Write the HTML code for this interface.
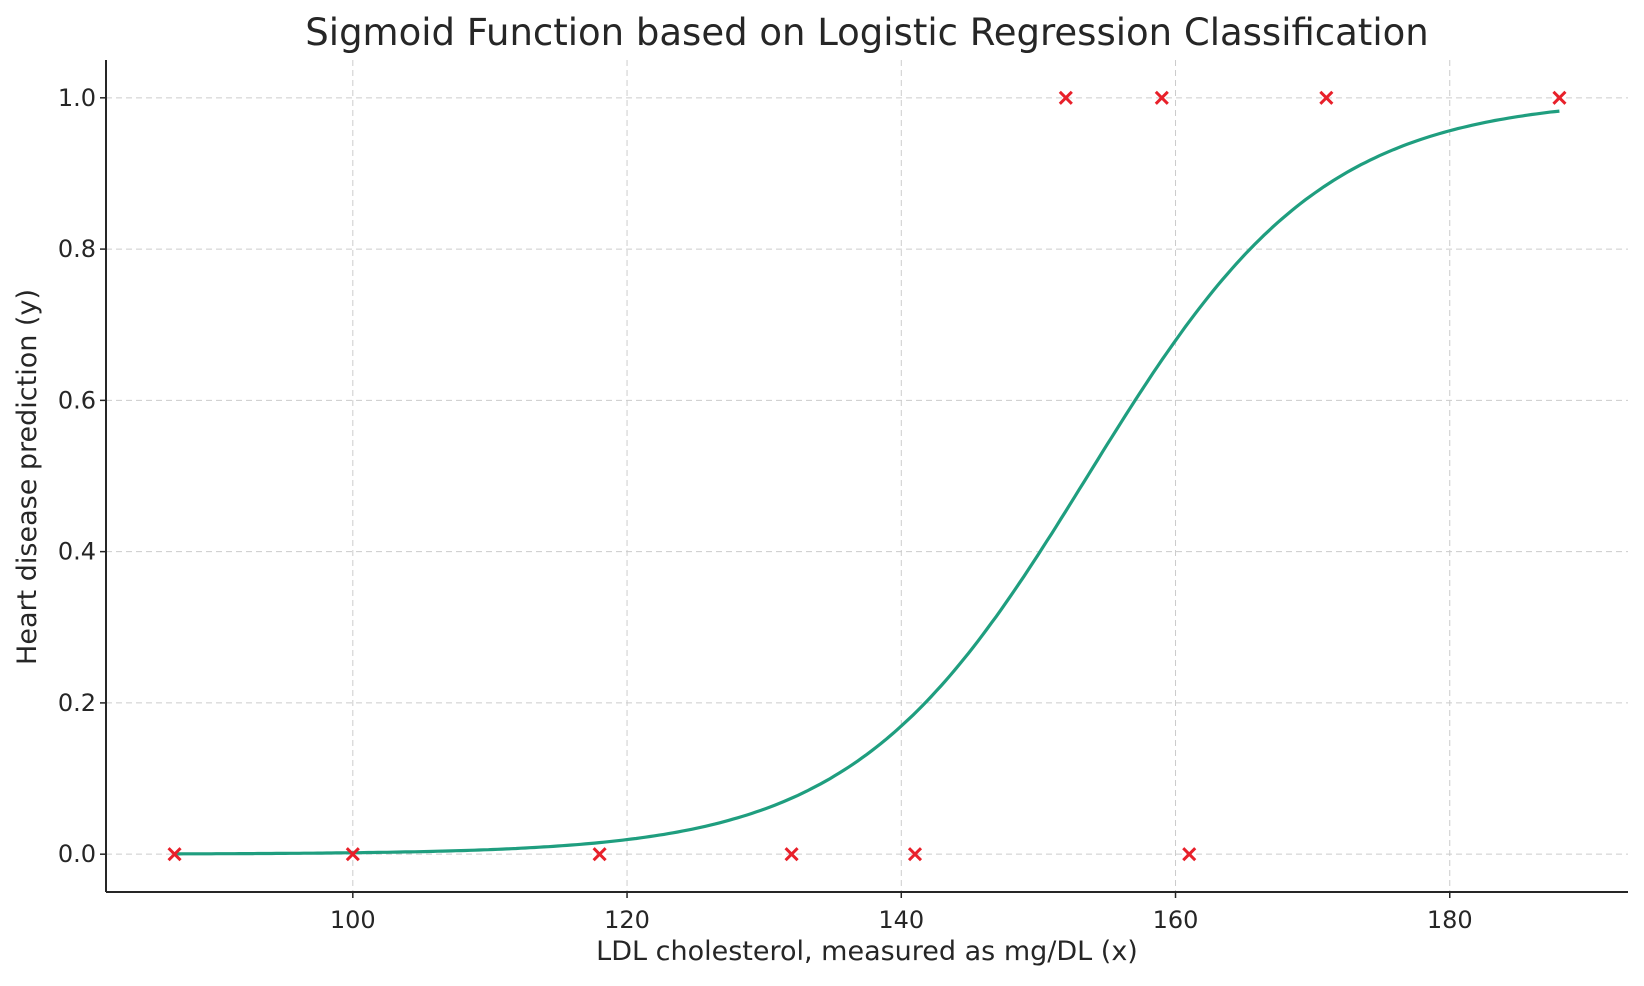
<!DOCTYPE html>
<html><head><meta charset="utf-8"><style>
body{margin:0;background:#fff;}
svg text{font-family:"DejaVu Sans","Liberation Sans",sans-serif;fill:#262626;}
</style></head><body>
<svg id="chart" width="1644" height="981" xmlns="http://www.w3.org/2000/svg">
<text x="867" y="45" font-size="37" text-anchor="middle">Sigmoid Function based on Logistic Regression Classification</text>
<g id="grid"></g>
<g id="axes"></g>
<g id="marks"></g>
<text x="867" y="960" font-size="27" text-anchor="middle">LDL cholesterol, measured as mg/DL (x)</text>
<text transform="translate(36,477) rotate(-90)" font-size="27" text-anchor="middle">Heart disease prediction (y)</text>
</svg>
<script>
const xTicks=[100,120,140,160,180];
const yTicks=[0.0,0.2,0.4,0.6,0.8,1.0];
const pointX=[87,100,118,132,141,161,152,159,171,188];
const pointY=[0,0,0,0,0,0,1,1,1,1];
const curveCoef=[-17.97,0.117];
const curveRange=[87,188];
const X0=106,X1=1628,Y0=60,Y1=892;
const xMin=82,xMax=193,yMin=-0.05,yMax=1.05;
const sx=v=>X0+(v-xMin)/(xMax-xMin)*(X1-X0);
const sy=v=>Y1-(v-yMin)/(yMax-yMin)*(Y1-Y0);
const NS="http://www.w3.org/2000/svg";
function mk(tag,attrs,parent){const e=document.createElementNS(NS,tag);for(const k in attrs)e.setAttribute(k,attrs[k]);parent.appendChild(e);return e;}
const grid=document.getElementById('grid'),axes=document.getElementById('axes'),marks=document.getElementById('marks');
xTicks.forEach(t=>{
  const l=mk('line',{x1:sx(t),x2:sx(t),y1:Y0,y2:Y1,stroke:'#ccc','stroke-width':1,'stroke-dasharray':'6,4'},grid);
  
  
  const tk=mk('line',{x1:sx(t),x2:sx(t),y1:Y1,y2:Y1+6,stroke:'#262626','stroke-width':1.5},axes);
  
  
  const tx=mk('text',{x:sx(t),y:Y1+36,'font-size':24,'text-anchor':'middle'},axes);tx.textContent=t;
  
  
});
yTicks.forEach(t=>{
  const l=mk('line',{x1:X0,x2:X1,y1:sy(t),y2:sy(t),stroke:'#ccc','stroke-width':1,'stroke-dasharray':'6,4'},grid);
  
  
  const tk=mk('line',{x1:X0-6,x2:X0,y1:sy(t),y2:sy(t),stroke:'#262626','stroke-width':1.5},axes);
  
  
  const tx=mk('text',{x:X0-10,y:sy(t)+8,'font-size':24,'text-anchor':'end'},axes);tx.textContent=t.toFixed(1);
  
  
});
const la=mk('line',{x1:X0,x2:X0,y1:Y0,y2:Y1,stroke:'#262626','stroke-width':2},axes);


const ba=mk('line',{x1:X0,x2:X1,y1:Y1,y2:Y1,stroke:'#262626','stroke-width':2},axes);


let d='';
for(let i=0;i<=300;i++){const x=curveRange[0]+(curveRange[1]-curveRange[0])*i/300;const y=1/(1+Math.exp(-(curveCoef[0]+curveCoef[1]*x)));d+=(i?'L':'M')+sx(x).toFixed(1)+','+sy(y).toFixed(1);}
const c=mk('path',{d:d,fill:'none',stroke:'#1f9e7f','stroke-width':3.2},marks);


pointX.forEach((x,i)=>{
  const px=sx(x),py=sy(pointY[i]),r=6;
  const g=mk('path',{d:`M${px-r},${py-r}L${px+r},${py+r}M${px-r},${py+r}L${px+r},${py-r}`,stroke:'#e8202a','stroke-width':3},marks);
  
  
});
</script>
</body></html>
